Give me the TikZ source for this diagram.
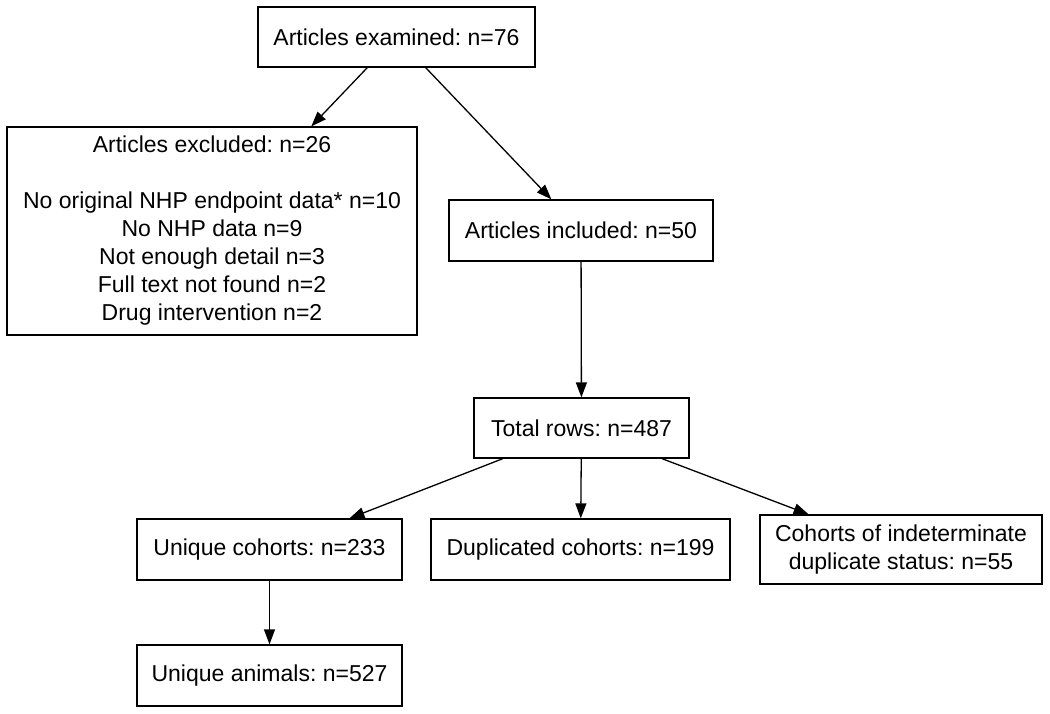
\documentclass[tikz,border=0pt]{standalone}
\usepackage{fontspec}
\setmainfont{Liberation Sans}
\usetikzlibrary{arrows.meta}
\frenchspacing
\begin{document}
\begin{tikzpicture}[x=1pt,y=-1pt,
  box/.style={draw,line width=1.3pt,rectangle,inner sep=0pt,align=center,font=\fontsize{23}{28}\selectfont},
  conn/.style={line width=1.3pt,-{Triangle[length=15pt,width=11pt]}}]
\useasboundingbox (0,0) rectangle (1050,713);
\node[box,minimum width=277pt,minimum height=60pt] (ex) at (396.5,37) {Articles examined: n=76};
\node[box,minimum width=410pt,minimum height=208pt] (exc) at (212,231) {Articles excluded: n=26\\[28pt]No original NHP endpoint data* n=10\\No NHP data n=9\\Not enough detail n=3\\Full text not found n=2\\Drug intervention n=2};
\node[box,minimum width=264pt,minimum height=61pt] (inc) at (581,230.5) {Articles included: n=50};
\node[box,minimum width=215pt,minimum height=60pt] (tot) at (581.5,428) {Total rows: n=487};
\node[box,minimum width=265pt,minimum height=61pt] (uc) at (269.5,549.5) {Unique cohorts: n=233};
\node[box,minimum width=299pt,minimum height=61pt] (dc) at (580.5,549.5) {Duplicated cohorts: n=199};
\node[box,minimum width=282pt,minimum height=69pt] (ic) at (901,549.5) {Cohorts of indeterminate\\duplicate status: n=55};
\node[box,minimum width=265pt,minimum height=61pt] (ua) at (269.5,675.5) {Unique animals: n=527};
\draw[conn] (ex) -- (exc);
\draw[conn] (ex) -- (inc);
\draw[conn] (inc) -- (tot);
\draw[conn] (tot) -- (uc);
\draw[conn] (tot) -- (dc);
\draw[conn] (tot) -- (ic);
\draw[conn] (uc) -- (ua);
\end{tikzpicture}
\end{document}
